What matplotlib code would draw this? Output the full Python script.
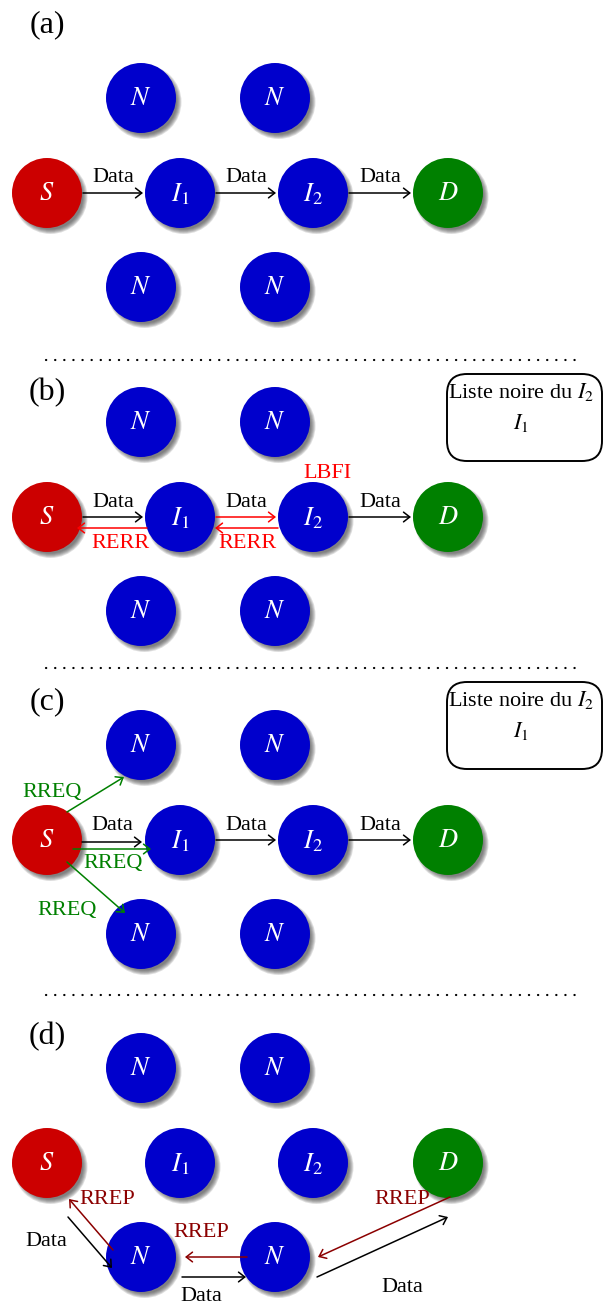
import matplotlib
matplotlib.use('Agg')
import matplotlib.pyplot as plt
from matplotlib.patches import Circle, FancyBboxPatch

plt.rcParams['font.family'] = ['Liberation Serif', 'DejaVu Serif']
plt.rcParams['mathtext.fontset'] = 'stix'

#%%
# content of the diagram

panel_tags = ['(a)', '(b)', '(c)', '(d)']
node_names = ['S', 'I1', 'I2', 'D', 'Nt1', 'Nt2', 'Nb1', 'Nb2']
node_text = {'S': '$S$', 'I1': '$I_1$', 'I2': '$I_2$', 'D': '$D$',
             'Nt1': '$N$', 'Nt2': '$N$', 'Nb1': '$N$', 'Nb2': '$N$'}
node_role = {'S': 'src', 'I1': 'mid', 'I2': 'mid', 'D': 'dst',
             'Nt1': 'mid', 'Nt2': 'mid', 'Nb1': 'mid', 'Nb2': 'mid'}

# edges: panel, from, to, arrow colour, label, label colour
edges = [
    (0, 'S', 'I1', 'k', 'Data', 'k'),
    (0, 'I1', 'I2', 'k', 'Data', 'k'),
    (0, 'I2', 'D', 'k', 'Data', 'k'),
    (1, 'S', 'I1', 'k', 'Data', 'k'),
    (1, 'I1', 'S', 'r', 'RERR', 'r'),
    (1, 'I1', 'I2', 'r', 'Data', 'k'),
    (1, 'I2', 'I1', 'r', 'RERR', 'r'),
    (1, 'I2', 'D', 'k', 'Data', 'k'),
    (2, 'S', 'I1', 'k', 'Data', 'k'),
    (2, 'S', 'I1', 'g', 'RREQ', 'g'),
    (2, 'S', 'Nt1', 'g', 'RREQ', 'g'),
    (2, 'S', 'Nb1', 'g', 'RREQ', 'g'),
    (2, 'I1', 'I2', 'k', 'Data', 'k'),
    (2, 'I2', 'D', 'k', 'Data', 'k'),
    (3, 'S', 'Nb1', 'k', 'Data', 'k'),
    (3, 'Nb1', 'S', 'm', 'RREP', 'm'),
    (3, 'Nb1', 'Nb2', 'k', 'Data', 'k'),
    (3, 'Nb2', 'Nb1', 'm', 'RREP', 'm'),
    (3, 'Nb2', 'D', 'k', 'Data', 'k'),
    (3, 'D', 'Nb2', 'm', 'RREP', 'm'),
]

# black lists shown in panels (b) and (c), extra note in (b)
blacklist_panels = [1, 2]
blacklist_title = 'Liste noire du $I_2$'
blacklist_entry = '$I_1$'
note_panel, note_node, note_text = 1, 'I2', 'LBFI'

#%%
# layout (pixels, y downwards)

rows = [193, 517, 840, 1163]
col_x = {'S': 47, 'I1': 180, 'I2': 313, 'D': 448,
         'Nt1': 141, 'Nt2': 275, 'Nb1': 141, 'Nb2': 275}
row_dy = {'S': 0, 'I1': 0, 'I2': 0, 'D': 0,
          'Nt1': -95, 'Nt2': -95, 'Nb1': 94, 'Nb2': 94}
R = 35
tag_y = [25, 393, 702, 1037]
sep_y = [360, 668, 995]
box_top = [374, 682]

# where each arrow leaves / enters its nodes, and label shift from mid
edge_geom = [
    ((36, 0), (-37, 0), (0, -11)),
    ((36, 0), (-37, 0), (0, -11)),
    ((36, 0), (-37, 0), (0, -11)),
    ((36, 0), (-37, 0), (0, -10)),
    ((-33, 11), (30, 11), (8, 20)),
    ((36, 0), (-37, 0), (0, -10)),
    ((-35, 11), (35, 11), (1, 20)),
    ((36, 0), (-37, 0), (0, -10)),
    ((35, 2), (-38, 2), (0, -12)),
    ((26, 9), (-29, 9), (1, 19)),
    ((20, -28), (-17, 32), (-43, 2)),
    ((20, 22), (-16, -21), (-29, 27)),
    ((36, 0), (-37, 0), (0, -10)),
    ((36, 0), (-37, 0), (0, -10)),
    ((21, 54), (-29, 11), (-44, 3)),
    ((-28, -7), (22, 36), (16, -20)),
    ((41, 20), (-29, 20), (-13, 24)),
    ((-28, 0), (44, 0), (-15, -20)),
    ((42, 20), (0, 54), (20, 45)),
    ((2, 34), (43, 0), (18, -23)),
]

fill = {'src': '#CC0000', 'mid': '#0000CC', 'dst': '#008000'}
ink = {'k': 'black', 'r': '#FF0000', 'g': '#008000', 'm': '#8B0000'}


def pos(p, name):
    return col_x[name], rows[p] + row_dy[name]


#%%

fig = plt.figure(figsize=(6.03, 13.05), dpi=100)
ax = fig.add_axes([0, 0, 1, 1])
ax.set_xlim(0, 603)
ax.set_ylim(1305, 0)
ax.axis('off')

for p, tag in enumerate(panel_tags):
    ax.text(47, tag_y[p], tag, fontsize=23, ha='center', va='center')

    for name in node_names:
        x, y = pos(p, name)
        # soft drop shadow
        for i in range(6):
            ax.add_patch(Circle((x + 3.5, y + 4), R + 2 - i * 0.9,
                                color='#404040', alpha=0.16, lw=0, zorder=1))
        ax.add_patch(Circle((x, y), R, color=fill[node_role[name]], lw=0, zorder=2))
        ax.text(x, y + 1, node_text[name], color='white', fontsize=19,
                ha='center', va='center', zorder=3)

for (p, a, b, c, lab, lc), (sa, eb, off) in zip(edges, edge_geom):
    xa, ya = pos(p, a)
    xb, yb = pos(p, b)
    start = (xa + sa[0], ya + sa[1])
    end = (xb + eb[0], yb + eb[1])
    ax.annotate('', xy=end, xytext=start, zorder=4,
                arrowprops=dict(arrowstyle='->,head_length=0.45,head_width=0.35',
                                color=ink[c], lw=1.1, shrinkA=0, shrinkB=0))
    mx = (start[0] + end[0]) / 2 + off[0]
    my = (start[1] + end[1]) / 2 + off[1]
    ax.text(mx, my, lab, color=ink[lc], fontsize=16, ha='center', va='baseline', zorder=5)

nx, ny = pos(note_panel, note_node)
ax.text(nx + 14, ny - 39, note_text, color=ink['r'], fontsize=16, ha='center', va='baseline')

for p, top in zip(blacklist_panels, box_top):
    ax.add_patch(FancyBboxPatch((447, top), 155, 87,
                                boxstyle='round,pad=0,rounding_size=20',
                                fc='none', ec='black', lw=1.4))
    ax.text(521, top + 24, blacklist_title, fontsize=16, ha='center', va='baseline')
    ax.text(521, top + 55, blacklist_entry, fontsize=16, ha='center', va='baseline')

for y in sep_y:
    ax.plot([46, 578], [y, y], color='black', lw=1.6,
            linestyle=(0, (0.1, 4)), dash_capstyle='round')

fig.savefig('out.png', dpi=100)
